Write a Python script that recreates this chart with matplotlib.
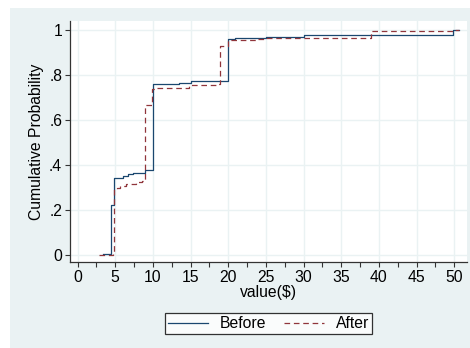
import matplotlib
matplotlib.use('Agg')
import matplotlib.pyplot as plt
from matplotlib.patches import Rectangle
from matplotlib.ticker import MultipleLocator

plt.rcParams['font.family'] = ['Liberation Sans', 'DejaVu Sans']

# step points (value, cumulative probability), drawn with where='post'
before_x = [3.4, 4.5, 4.9, 6.0, 6.7, 7.4, 9.0, 10.0, 11.0, 13.5, 15.0,
            20.0, 20.9, 25.0, 30.0, 45.0, 49.8, 50.6]
before_y = [0.005, 0.226, 0.344, 0.352, 0.360, 0.366, 0.378, 0.759, 0.762,
            0.766, 0.772, 0.959, 0.965, 0.969, 0.976, 0.980, 1.0, 1.0]

after_x = [2.9, 4.7, 4.9, 5.2, 5.6, 6.5, 7.8, 8.5, 9.0, 9.9, 10.5, 14.8,
           18.6, 18.9, 20.0, 23.8, 24.9, 38.9, 49.8, 50.6]
after_y = [0.002, 0.008, 0.293, 0.300, 0.310, 0.318, 0.326, 0.330, 0.669,
           0.737, 0.744, 0.754, 0.759, 0.931, 0.957, 0.960, 0.963, 0.996,
           1.0, 1.0]

x_ticks = list(range(0, 51, 5))
y_ticks = [0, 0.2, 0.4, 0.6, 0.8, 1.0]
y_labels = ['0', '.2', '.4', '.6', '.8', '1']

BG = '#eaf2f3'
BLUE = '#1a476f'
RED = '#90353b'
FS = 11.3

fig = plt.figure(figsize=(4.7, 3.48), dpi=100)
fig.patch.set_facecolor('white')
fig.patches.append(Rectangle((10 / 470, 0), 460 / 470, 340 / 348,
                             transform=fig.transFigure, facecolor=BG,
                             edgecolor='none', zorder=-10))

ax = fig.add_axes([70 / 470, 86 / 348, 397 / 470, 241 / 348])
ax.set_facecolor('white')

ax.step(before_x, before_y, where='post', color=BLUE, lw=0.9,
        label='Before', zorder=3)
ax.step(after_x, after_y, where='post', color=RED, lw=0.9,
        dashes=(4.5, 3), label='After', zorder=3)

ax.set_xlim(-1.0, 51.7)
ax.set_ylim(-0.029, 1.04)

ax.set_xticks(x_ticks)
ax.xaxis.set_minor_locator(MultipleLocator(2.5))
ax.set_yticks(y_ticks)
ax.set_yticklabels(y_labels)

ax.grid(True, which='major', color=BG, lw=1.0, zorder=0)
ax.set_axisbelow(True)

for s in ['top', 'right']:
    ax.spines[s].set_visible(False)
for s in ['left', 'bottom']:
    ax.spines[s].set_color('#333333')
    ax.spines[s].set_linewidth(0.9)

ax.tick_params(axis='both', which='major', direction='out', length=3.6,
               width=0.8, color='#333333', labelsize=FS, pad=2)
ax.tick_params(axis='x', which='minor', direction='out', length=3.6,
               width=0.8, color='#333333')

ax.set_xlabel('value($)', fontsize=FS, labelpad=0)
ax.set_ylabel('Cumulative Probability', fontsize=FS, labelpad=4)

leg = fig.legend(loc='center', bbox_to_anchor=(268.5 / 470, 1 - 323.5 / 348),
                 ncol=2, fontsize=FS, frameon=True, fancybox=False,
                 handlelength=2.55, columnspacing=1.1, borderpad=0.2,
                 handletextpad=0.75, borderaxespad=0)
leg.get_frame().set_edgecolor('black')
leg.get_frame().set_linewidth(0.9)

plt.savefig('out.png', dpi=100)
plt.close()
